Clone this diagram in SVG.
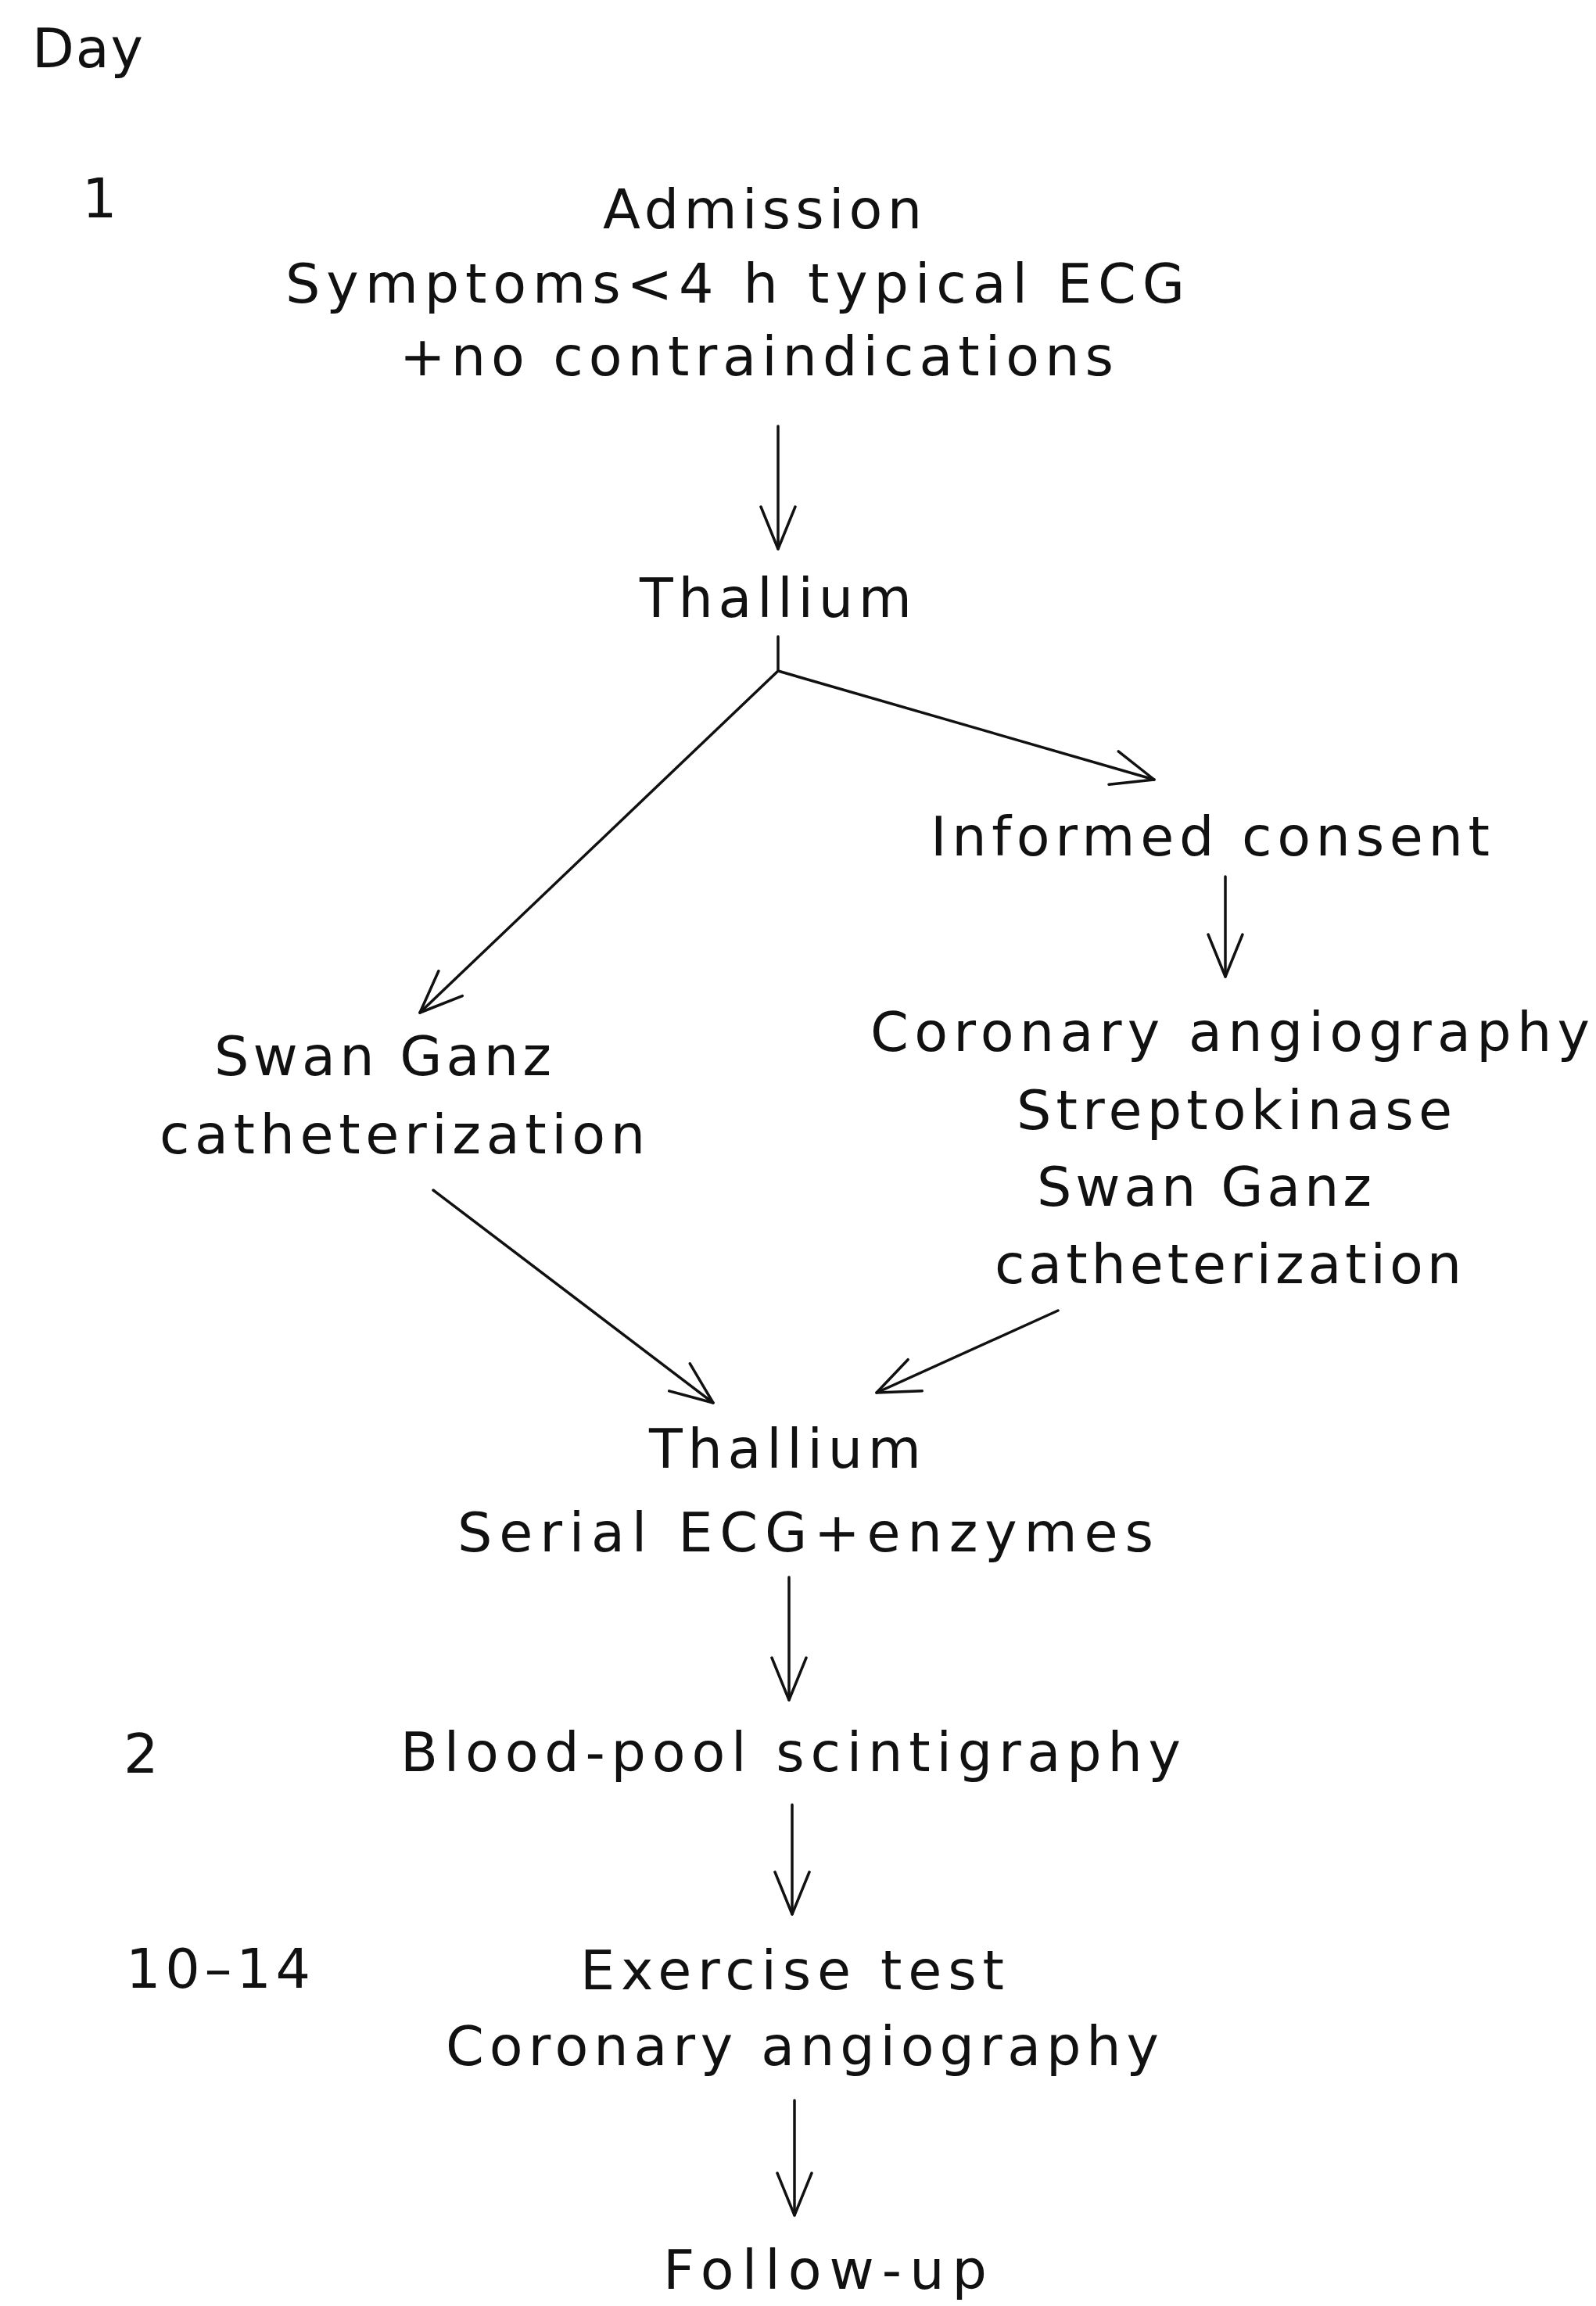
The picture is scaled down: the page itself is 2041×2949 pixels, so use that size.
<svg xmlns="http://www.w3.org/2000/svg" width="2041" height="2949" viewBox="0 0 2041 2949">
<style>
text{font-family:"DejaVu Sans","Liberation Sans",Arial,sans-serif;font-size:70px;fill:#111;}
.c{fill:none;stroke:#111;stroke-width:3.5;stroke-linecap:round;stroke-linejoin:round;}
</style>
<defs>
<marker id="ah" markerUnits="userSpaceOnUse" markerWidth="120" markerHeight="120" refX="0" refY="0" viewBox="-60 -60 120 120" orient="auto" overflow="visible">
<path d="M-54,-22 L0,0 L-54,22" fill="none" stroke="#111" stroke-width="3.5" stroke-linecap="round" stroke-linejoin="round"/>
</marker>
</defs>
<rect width="2041" height="2949" fill="#ffffff"/>
<g id="day-labels">
<text x="41" y="86" textLength="142">Day</text>
<text x="105" y="278">1</text>
<text x="158" y="2267" textLength="44">2</text>
<text x="161" y="2542" textLength="236">10–14</text>
</g>
<g id="connectors">
<path class="c" d="M995,545 L995,702" marker-end="url(#ah)"/>
<path class="c" d="M995,814 L995,858 L1476,997" marker-end="url(#ah)"/>
<path class="c" d="M995,858 L537,1295" marker-end="url(#ah)"/>
<path class="c" d="M1567,1121 L1567,1249" marker-end="url(#ah)"/>
<path class="c" d="M554,1522 L912,1794" marker-end="url(#ah)"/>
<path class="c" d="M1353,1676 L1121,1781" marker-end="url(#ah)"/>
<path class="c" d="M1009,2017 L1009,2174" marker-end="url(#ah)"/>
<path class="c" d="M1013,2308 L1013,2448" marker-end="url(#ah)"/>
<path class="c" d="M1016,2686 L1016,2833" marker-end="url(#ah)"/>
</g>
<g id="admission">
<text x="771" y="292" textLength="408">Admission</text>
<text x="365" y="387" textLength="1150">Symptoms&lt;4 h typical ECG</text>
<text x="511" y="480" textLength="913">+no contraindications</text>
</g>
<g id="thallium1">
<text x="818" y="789" textLength="348">Thallium</text>
</g>
<g id="informed-consent">
<text x="1190" y="1094" textLength="715">Informed consent</text>
</g>
<g id="right-branch">
<text x="1113" y="1344" textLength="920">Coronary angiography</text>
<text x="1300" y="1444" textLength="557">Streptokinase</text>
<text x="1326" y="1542" textLength="428">Swan Ganz</text>
<text x="1272" y="1641" textLength="597">catheterization</text>
</g>
<g id="left-branch">
<text x="274" y="1375" textLength="431">Swan Ganz</text>
<text x="204" y="1475" textLength="621">catheterization</text>
</g>
<g id="thallium2">
<text x="830" y="1877" textLength="348">Thallium</text>
<text x="585" y="1984" textLength="890">Serial ECG+enzymes</text>
</g>
<g id="blood-pool">
<text x="512" y="2265" textLength="998">Blood-pool scintigraphy</text>
</g>
<g id="exercise">
<text x="742" y="2544" textLength="542">Exercise test</text>
<text x="570" y="2641" textLength="912">Coronary angiography</text>
</g>
<g id="follow-up">
<text x="848" y="2927" textLength="414">Follow-up</text>
</g>
</svg>
